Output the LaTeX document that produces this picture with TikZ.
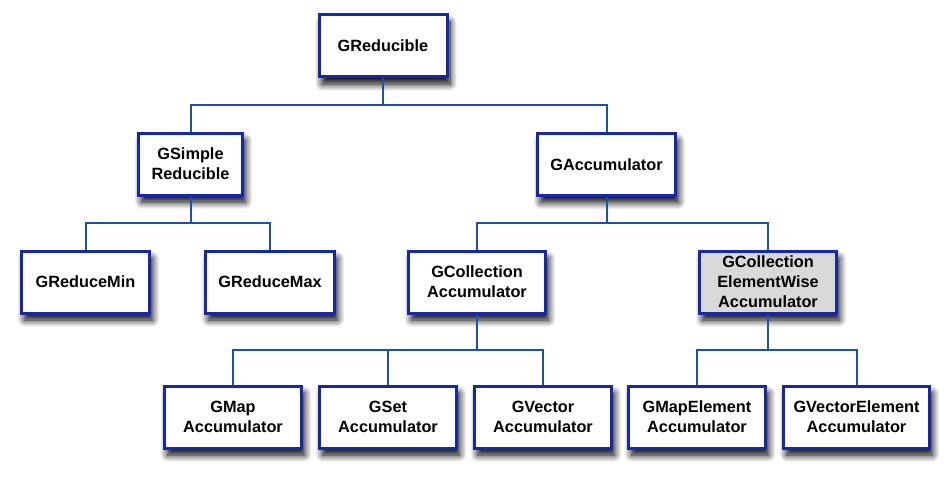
\documentclass[tikz,border=0pt]{standalone}
\usepackage{fontspec}
\setmainfont{Liberation Sans}
\usetikzlibrary{shadows.blur}
\definecolor{boxborder}{RGB}{22,40,165}
\definecolor{wire}{RGB}{30,80,175}
\definecolor{boxgray}{RGB}{217,217,217}
\begin{document}
\begin{tikzpicture}[x=1pt,y=-1pt,
  cls/.style={draw=boxborder, line width=3pt, fill=white, align=center,
    minimum height=62pt, inner sep=2pt,
    font=\fontsize{16.3}{20}\selectfont\bfseries,
    blur shadow={shadow xshift=3pt, shadow yshift=-7pt, shadow blur radius=7pt, shadow opacity=100, shadow blur steps=10}},
  conn/.style={draw=wire, line width=2pt}]
\useasboundingbox (0,0) rectangle (949,476);
\node[cls, minimum width=128pt] (red) at (383,46) {GReducible};
\node[cls, minimum width=104pt] (simp) at (190.5,164) {GSimple\\Reducible};
\node[cls, minimum width=138pt] (acc) at (606.5,164.5) {GAccumulator};
\node[cls, minimum width=128pt] (rmin) at (85.5,282) {GReduceMin};
\node[cls, minimum width=129pt] (rmax) at (270,282) {GReduceMax};
\node[cls, minimum width=137pt] (coll) at (477,282) {GCollection\\Accumulator};
\node[cls, minimum width=137pt, fill=boxgray] (elem) at (768,282) {GCollection\\ElementWise\\Accumulator};
\node[cls, minimum width=137pt] (map) at (233,417) {GMap\\Accumulator};
\node[cls, minimum width=137pt] (set) at (388,417) {GSet\\Accumulator};
\node[cls, minimum width=137pt] (vec) at (543,417) {GVector\\Accumulator};
\node[cls, minimum width=137pt] (mapel) at (697,417) {GMapElement\\Accumulator};
\node[cls, minimum width=146pt] (vecel) at (856.5,417) {GVectorElement\\Accumulator};
\path[conn] (red.south) -- (red.south |- 0,105);
\path[conn] (simp.north) |- (acc.north |- 0,105) -- (acc.north);
\path[conn] (simp.south) -- (simp.south |- 0,223);
\path[conn] (rmin.north) |- (rmax.north |- 0,223) -- (rmax.north);
\path[conn] (acc.south) -- (acc.south |- 0,223);
\path[conn] (coll.north) |- (elem.north |- 0,223) -- (elem.north);
\path[conn] (coll.south) -- (coll.south |- 0,350);
\path[conn] (map.north) |- (vec.north |- 0,350) -- (vec.north);
\path[conn] (set.north) -- (set.north |- 0,350);
\path[conn] (elem.south) -- (elem.south |- 0,350);
\path[conn] (mapel.north) |- (vecel.north |- 0,350) -- (vecel.north);
\end{tikzpicture}
\end{document}
